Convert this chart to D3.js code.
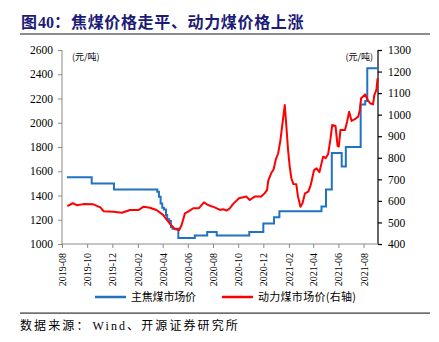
<!DOCTYPE html>
<html>
<head>
<meta charset="utf-8">
<script src="https://cdn.jsdelivr.net/npm/d3@7"></script>
<style>
  body { margin: 0; background: #fff; }
  svg { display: block; }
</style>
</head>
<body>
<svg id="chart" width="439" height="342"></svg>
<script>
// ---- data ----
const monthTicks = ["2019-08","2019-10","2019-12","2020-02","2020-04","2020-06",
                    "2020-08","2020-10","2020-12","2021-02","2021-04","2021-06","2021-08"];
const leftTicks = [1000,1200,1400,1600,1800,2000,2200,2400,2600];
const rightTicks = [400,500,600,700,800,900,1000,1100,1200,1300];

// 主焦煤市场价 (元/吨), step changes
const cokingDates = ["2019-08-13","2019-10-12","2019-12-05","2020-03-19","2020-03-23","2020-03-27",
  "2020-03-31","2020-04-04","2020-04-09","2020-04-12","2020-04-17","2020-04-21","2020-04-25",
  "2020-05-09","2020-06-18","2020-07-18","2020-08-10","2020-10-28","2020-12-01","2020-12-27",
  "2021-01-09","2021-04-21","2021-05-02","2021-05-16","2021-06-09","2021-06-19","2021-07-25",
  "2021-08-05","2021-08-10","2021-09-05"];
const cokingPrices = [1550,1500,1450,1430,1390,1335,1300,1285,1240,1205,1190,1140,1125,
  1050,1070,1100,1070,1100,1170,1220,1270,1310,1450,1750,1640,1800,2150,2180,2450,2450];

// 动力煤市场价 (元/吨, 右轴)
const thermalDates = ["2019-08-14","2019-08-27","2019-09-06","2019-09-22","2019-10-16","2019-11-02",
  "2019-11-10","2019-12-04","2019-12-24","2020-01-13","2020-02-03","2020-02-15","2020-03-01",
  "2020-03-17","2020-04-02","2020-04-18","2020-04-30","2020-05-11","2020-05-17","2020-05-25",
  "2020-06-02","2020-06-14","2020-06-28","2020-07-10","2020-07-20","2020-08-05","2020-08-18",
  "2020-08-26","2020-09-03","2020-09-11","2020-09-19","2020-10-03","2020-10-21","2020-10-29",
  "2020-11-10","2020-11-26","2020-12-04","2020-12-10","2020-12-13","2020-12-20","2020-12-26",
  "2020-12-31","2021-01-06","2021-01-11","2021-01-16","2021-01-22","2021-01-26","2021-01-30",
  "2021-02-03","2021-02-07","2021-02-12","2021-02-19","2021-02-23","2021-03-01","2021-03-06",
  "2021-03-12","2021-03-20","2021-03-26","2021-04-03","2021-04-09","2021-04-16","2021-04-21",
  "2021-04-25","2021-05-01","2021-05-07","2021-05-13","2021-05-17","2021-05-25","2021-05-30",
  "2021-06-02","2021-06-06","2021-06-17","2021-06-22","2021-06-27","2021-07-03","2021-07-11",
  "2021-07-19","2021-07-23","2021-07-26","2021-08-05","2021-08-11","2021-08-17","2021-08-24",
  "2021-08-27","2021-09-01","2021-09-04"];
const thermalPrices = [576,589,580,585,584,570,552,550,545,558,558,573,568,558,535,496,470,465,
  488,542,550,566,566,593,581,570,558,561,555,566,586,612,620,604,620,620,635,650,694,728,747,
  790,821,875,952,1045,944,836,759,705,678,677,620,573,589,635,643,674,743,751,733,774,805,798,
  816,890,952,948,855,852,929,929,967,1014,971,979,991,1022,1076,1094,1068,1053,1048,1091,1114,1169];

// ---- layout ----
const svg = d3.select("#chart");
const parse = d3.timeParse("%Y-%m-%d");
const parseMonth = d3.timeParse("%Y-%m");
const plot = { left: 62, right: 378, top: 50, bottom: 244 };
const numFont = "'Liberation Serif', 'Times New Roman', serif";
const cjkFont = "'Noto Sans CJK SC', sans-serif";

const x = d3.scaleTime()
  .domain([parse("2019-08-01"), parse("2021-09-05")])
  .range([plot.left, plot.right]);
const yL = d3.scaleLinear().domain([1000, 2600]).range([plot.bottom, plot.top]);
const yR = d3.scaleLinear().domain([400, 1300]).range([plot.bottom, plot.top]);

// title + rule
const title = svg.append("text")
  .attr("x", 21).attr("y", 27.5)
  .style("font-weight", "bold").style("font-size", "16px").style("fill", "#1c1c78");
title.append("tspan").style("font-family", cjkFont).text("图");
title.append("tspan").style("font-family", numFont).attr("dx", 1).text("40");
title.append("tspan").style("font-family", cjkFont).text("：");
title.append("tspan").style("font-family", cjkFont).attr("x", 71)
  .style("letter-spacing", "0.65px").text("焦煤价格走平、动力煤价格上涨");
svg.append("rect").attr("x", 20).attr("y", 33).attr("width", 410).attr("height", 2)
  .attr("fill", "#8c8c8c");

// axes
const leftAxis = svg.append("g")
  .attr("transform", `translate(${plot.left},0)`)
  .call(d3.axisLeft(yL).tickValues(leftTicks).tickSize(4).tickPadding(5).tickFormat(d3.format("d")));
leftAxis.selectAll("path,line").attr("stroke", "#8a8a8a");

const rightAxis = svg.append("g")
  .attr("transform", `translate(${plot.right},0)`)
  .call(d3.axisRight(yR).tickValues(rightTicks).tickSize(4).tickPadding(6).tickFormat(d3.format("d")));
rightAxis.selectAll("path,line").attr("stroke", "#000").attr("stroke-width", 1.2);

const bottomAxis = svg.append("g")
  .attr("transform", `translate(0,${plot.bottom})`)
  .call(d3.axisBottom(x).tickValues(monthTicks.map(parseMonth)).tickSize(4)
        .tickFormat(d3.timeFormat("%Y-%m")));
bottomAxis.selectAll("path,line").attr("stroke", "#8a8a8a");
bottomAxis.selectAll("text")
  .attr("transform", "rotate(-90)")
  .attr("x", -9).attr("y", 0).attr("dy", "0.35em")
  .style("text-anchor", "end");

[leftAxis, rightAxis, bottomAxis].forEach(g => {
  g.select(".domain").attr("stroke-width", g === rightAxis ? 1.2 : 1);
  g.selectAll("text").style("font-family", numFont).style("fill", "#000");
});
leftAxis.selectAll("text").style("font-size", "11.5px");
rightAxis.selectAll("text").style("font-size", "11.5px");
bottomAxis.selectAll("text").style("font-size", "10px");
// plain domain lines without outer caps
leftAxis.select(".domain").attr("d", `M0,${plot.top}V${plot.bottom}`);
rightAxis.select(".domain").attr("d", `M0,${plot.top}V${plot.bottom}`);
bottomAxis.select(".domain").attr("d", `M${plot.left},0H${plot.right}`);

// unit labels
svg.append("text").attr("x", 72).attr("y", 60)
  .style("font-family", cjkFont).style("font-size", "9px").text("(元/吨)");
svg.append("text").attr("x", 373).attr("y", 60).attr("text-anchor", "end")
  .style("font-family", cjkFont).style("font-size", "9px").text("(元/吨)");

// series
const coking = cokingDates.map((d, i) => ({ date: parse(d), value: cokingPrices[i] }));
const thermal = thermalDates.map((d, i) => ({ date: parse(d), value: thermalPrices[i] }));

svg.append("path").datum(coking)
  .attr("fill", "none").attr("stroke", "#1f73c2").attr("stroke-width", 2)
  .attr("d", d3.line().x(d => x(d.date)).y(d => yL(d.value)).curve(d3.curveStepAfter));

svg.append("path").datum(thermal)
  .attr("fill", "none").attr("stroke", "#ff0000").attr("stroke-width", 2)
  .attr("stroke-linejoin", "round")
  .attr("d", d3.line().x(d => x(d.date)).y(d => yR(d.value)));

// legend
const legend = [
  { label: "主焦煤市场价", color: "#1f73c2", x: 95, len: 65 },
  { label: "动力煤市场价(右轴)", color: "#ff0000", x: 222, len: 98 }
];
legend.forEach(l => {
  svg.append("line").attr("x1", l.x).attr("x2", l.x + 31)
    .attr("y1", 297).attr("y2", 297)
    .attr("stroke", l.color).attr("stroke-width", 2.5);
  svg.append("text").attr("x", l.x + 36).attr("y", 301)
    .attr("textLength", l.len).attr("lengthAdjust", "spacing")
    .style("font-family", cjkFont).style("font-size", "11px").style("fill", "#000")
    .text(l.label);
});

// footer
svg.append("rect").attr("x", 20).attr("y", 312.5).attr("width", 410).attr("height", 1.2)
  .attr("fill", "#333");
const source = svg.append("text").attr("x", 20).attr("y", 330)
  .style("font-size", "12px").style("fill", "#000").style("letter-spacing", "2.1px");
source.append("tspan").style("font-family", cjkFont).text("数据来源：");
source.append("tspan").style("font-family", numFont).attr("dx", 2).text("Wind");
source.append("tspan").style("font-family", cjkFont).text("、开源证券研究所");
</script>
</body>
</html>
